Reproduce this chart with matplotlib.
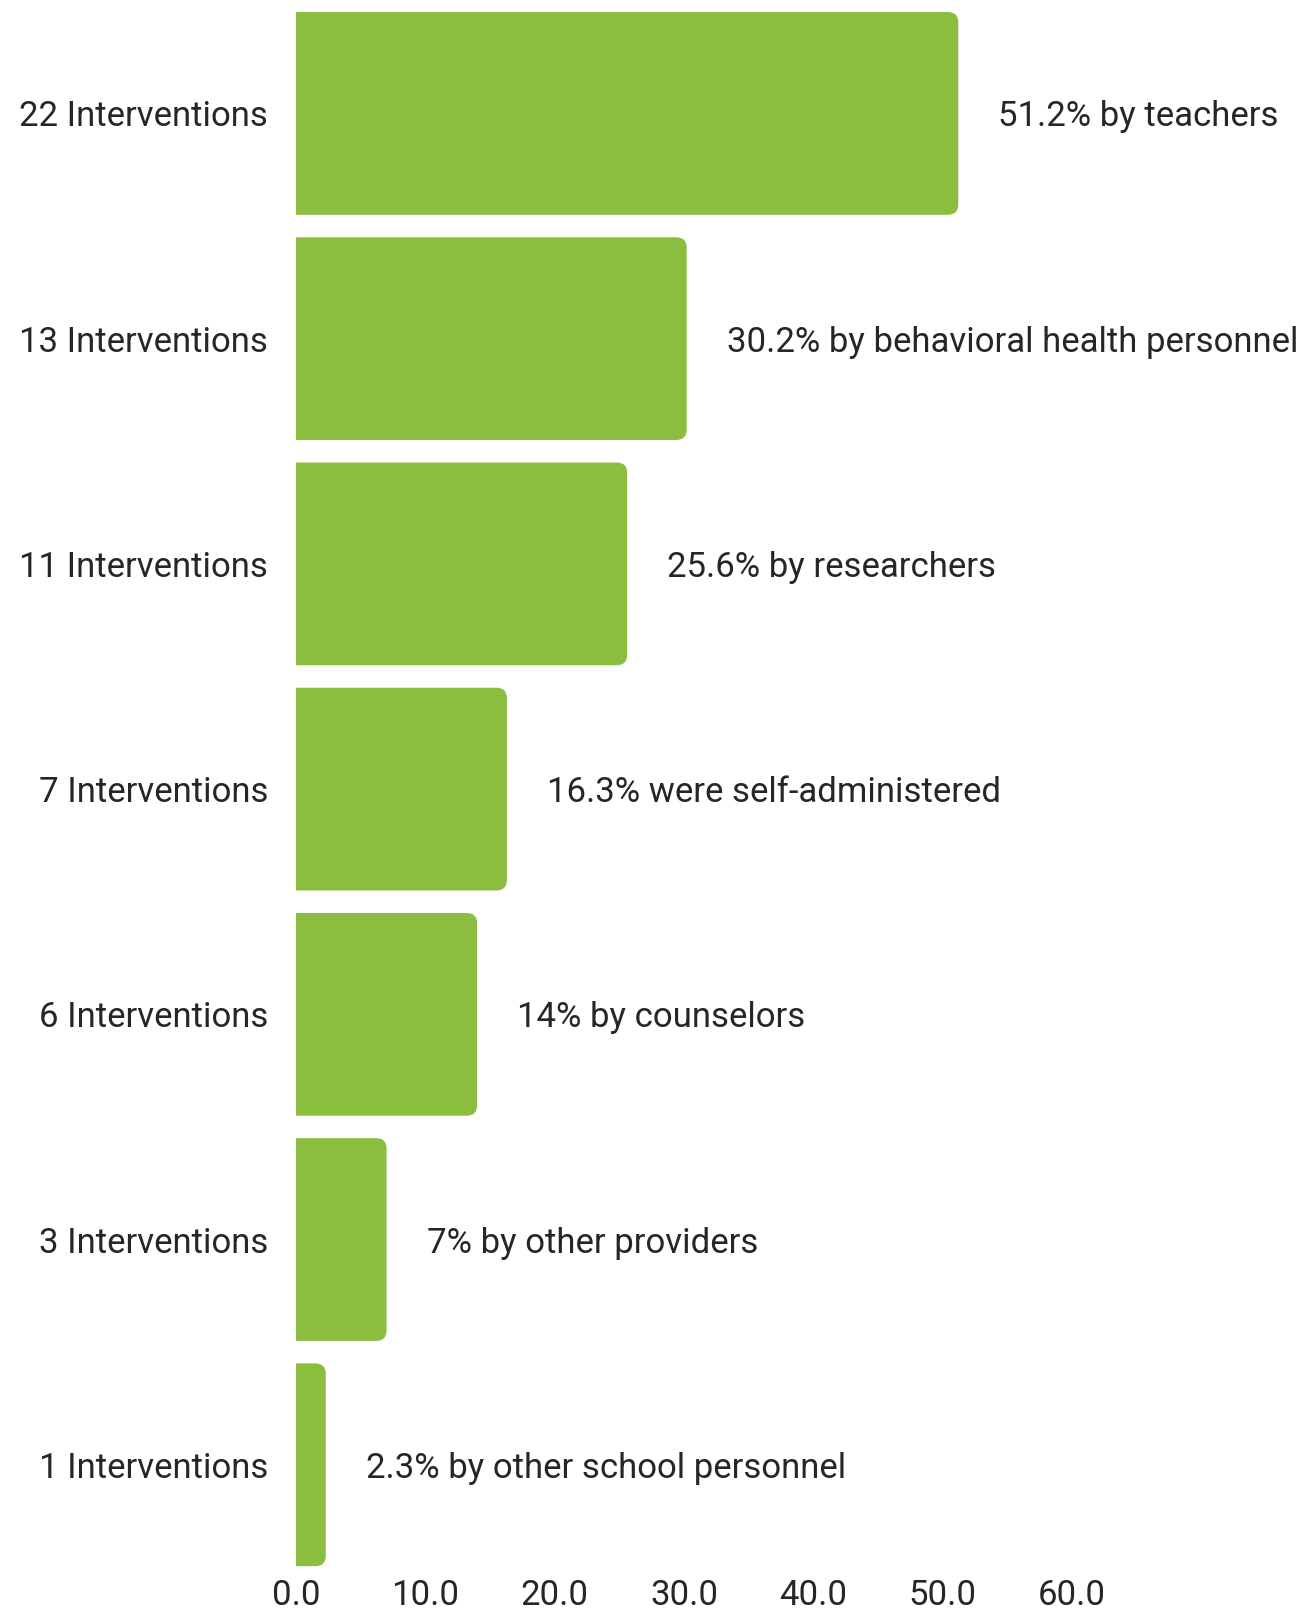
import matplotlib
matplotlib.use('Agg')
import matplotlib.pyplot as plt
from matplotlib.patches import FancyBboxPatch

# data
categories = ['22 Interventions', '13 Interventions', '11 Interventions', '7 Interventions',
              '6 Interventions', '3 Interventions', '1 Interventions']
values = [51.2, 30.2, 25.6, 16.3, 14.0, 7.0, 2.3]
bar_labels = ['51.2% by teachers', '30.2% by behavioral health personnel', '25.6% by researchers',
              '16.3% were self-administered', '14% by counselors', '7% by other providers',
              '2.3% by other school personnel']
xticks = [0, 10, 20, 30, 40, 50, 60]

plt.rcParams['font.family'] = ['Roboto', 'DejaVu Sans']
green = '#8bbd3e'
txt = '#262626'

fig = plt.figure(figsize=(13.14, 16.17), dpi=100)
ax = fig.add_axes([0.2253, 0.0245, 0.7747, 0.975])

y = list(range(len(values)))
bars = ax.barh(y, values, height=0.9, color=green)

ax.set_xlim(0, 78.7)
ax.set_ylim(len(values) - 0.5, -0.5)

# swap plain bars for ones with rounded right corners
px_x = 1018 / 78.7
px_y = 1576 / 7.0
for b in bars:
    x0, y0 = b.get_x(), b.get_y()
    w, h = b.get_width(), b.get_height()
    b.set_visible(False)
    p = FancyBboxPatch((x0 - 2, y0), w + 2, h,
                       boxstyle='round,pad=0,rounding_size=0.8',
                       mutation_aspect=px_x / px_y,
                       fc=green, ec='none', clip_on=True)
    ax.add_patch(p)

for yi, v, lab in zip(y, values, bar_labels):
    ax.text(v + 3.1, yi, lab, va='center_baseline', ha='left', fontsize=25, color=txt)

ax.set_yticks(y)
ax.set_yticklabels(categories, fontsize=25, color=txt)
ax.set_xticks(xticks)
ax.set_xticklabels([f'{t:.1f}' for t in xticks], fontsize=25, color=txt)
ax.tick_params(axis='y', length=0, pad=20)
ax.tick_params(axis='x', length=0, pad=1)
for s in ax.spines.values():
    s.set_visible(False)

fig.savefig('out.png', dpi=100)
